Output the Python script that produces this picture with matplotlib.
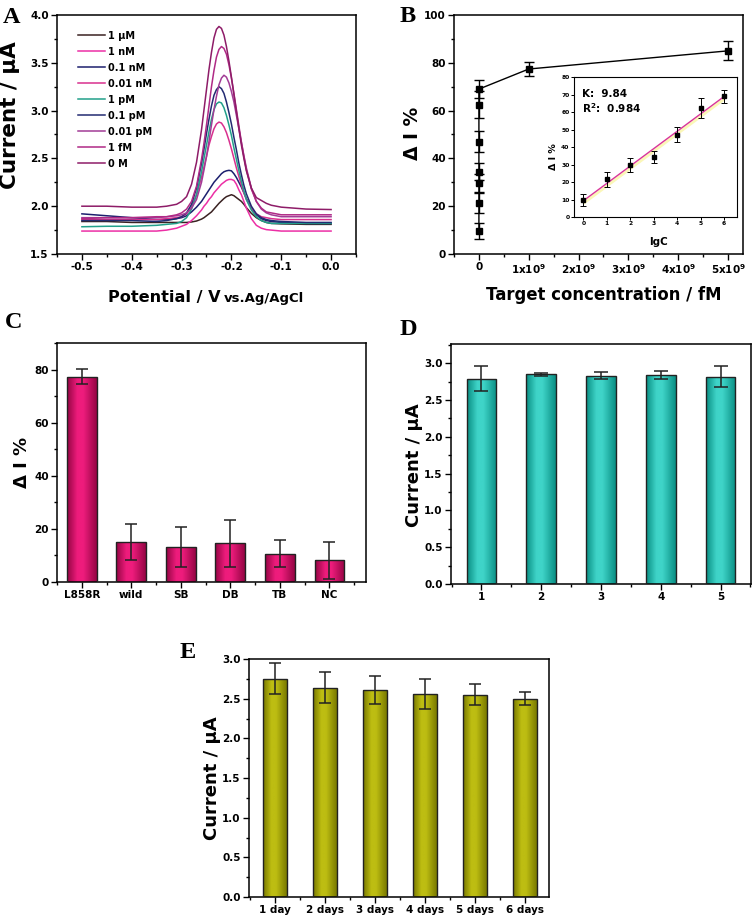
import numpy as np
import matplotlib
matplotlib.use("Agg")
import matplotlib.pyplot as plt
from matplotlib.ticker import MultipleLocator
from matplotlib.colors import LinearSegmentedColormap

plt.rcParams['font.family'] = 'DejaVu Sans'
plt.rcParams['font.weight'] = 'bold'
plt.rcParams['mathtext.default'] = 'bf'
plt.rcParams['axes.unicode_minus'] = False

# ---------------- panel A : DPV curves ----------------
potential = [-0.50, -0.45, -0.40, -0.35, -0.33, -0.31, -0.30, -0.29, -0.28, -0.27,
             -0.26, -0.255, -0.25, -0.245, -0.24, -0.235, -0.23, -0.225, -0.22, -0.215,
             -0.21, -0.205, -0.20, -0.195, -0.19, -0.185, -0.18, -0.175, -0.17, -0.16,
             -0.15, -0.14, -0.13, -0.12, -0.10, -0.05, 0.00]

cur_1uM = [1.84, 1.84, 1.83, 1.83, 1.83, 1.83, 1.83, 1.83, 1.835, 1.845,
           1.865, 1.88, 1.90, 1.92, 1.94, 1.97, 2.00, 2.03, 2.055, 2.08,
           2.10, 2.11, 2.12, 2.11, 2.09, 2.07, 2.05, 2.02, 1.985, 1.925,
           1.88, 1.85, 1.83, 1.82, 1.815, 1.81, 1.81]
cur_1nM = [1.74, 1.74, 1.74, 1.74, 1.75, 1.77, 1.79, 1.81, 1.85, 1.90,
           1.96, 2.00, 2.03, 2.07, 2.10, 2.14, 2.17, 2.20, 2.23, 2.25,
           2.27, 2.28, 2.28, 2.27, 2.23, 2.17, 2.12, 2.05, 1.98, 1.87,
           1.80, 1.77, 1.755, 1.75, 1.74, 1.74, 1.74]
cur_01nM = [1.92, 1.90, 1.88, 1.86, 1.86, 1.87, 1.88, 1.90, 1.94, 1.99,
            2.05, 2.09, 2.13, 2.17, 2.21, 2.25, 2.28, 2.31, 2.34, 2.36,
            2.37, 2.375, 2.37, 2.34, 2.30, 2.25, 2.20, 2.14, 2.08, 1.98,
            1.91, 1.87, 1.85, 1.84, 1.83, 1.82, 1.82]
cur_001nM = [1.86, 1.86, 1.86, 1.86, 1.87, 1.88, 1.89, 1.92, 1.99, 2.12,
             2.30, 2.41, 2.52, 2.64, 2.73, 2.81, 2.86, 2.88, 2.87, 2.83,
             2.77, 2.69, 2.60, 2.50, 2.40, 2.31, 2.22, 2.14, 2.07, 1.98,
             1.92, 1.89, 1.88, 1.87, 1.86, 1.86, 1.86]
cur_1pM = [1.785, 1.79, 1.79, 1.80, 1.81, 1.82, 1.84, 1.88, 1.97, 2.12,
           2.36, 2.50, 2.64, 2.78, 2.91, 3.01, 3.07, 3.09, 3.08, 3.03,
           2.95, 2.85, 2.74, 2.61, 2.49, 2.37, 2.26, 2.16, 2.07, 1.96,
           1.89, 1.85, 1.83, 1.82, 1.82, 1.82, 1.82]
cur_01pM = [1.85, 1.85, 1.85, 1.84, 1.85, 1.87, 1.89, 1.93, 2.02, 2.19,
            2.45, 2.60, 2.76, 2.91, 3.05, 3.16, 3.22, 3.25, 3.23, 3.18,
            3.09, 2.98, 2.86, 2.72, 2.59, 2.45, 2.33, 2.22, 2.13, 2.00,
            1.92, 1.88, 1.86, 1.85, 1.84, 1.83, 1.83]
cur_001pM = [1.88, 1.88, 1.88, 1.88, 1.89, 1.90, 1.91, 1.93, 1.98, 2.07,
             2.25, 2.38, 2.52, 2.68, 2.85, 3.01, 3.15, 3.27, 3.34, 3.37,
             3.35, 3.29, 3.20, 3.09, 2.95, 2.81, 2.67, 2.53, 2.40, 2.19,
             2.05, 1.97, 1.93, 1.91, 1.89, 1.89, 1.89]
cur_1fM = [1.87, 1.88, 1.88, 1.89, 1.89, 1.91, 1.93, 1.97, 2.05, 2.21,
           2.49, 2.66, 2.85, 3.05, 3.25, 3.42, 3.56, 3.64, 3.67, 3.65,
           3.59, 3.48, 3.34, 3.18, 3.01, 2.84, 2.67, 2.52, 2.38, 2.18,
           2.05, 1.98, 1.94, 1.93, 1.91, 1.91, 1.91]
cur_0M = [2.00, 2.00, 1.99, 1.99, 2.00, 2.02, 2.05, 2.10, 2.23, 2.46,
          2.80, 3.01, 3.22, 3.43, 3.61, 3.76, 3.85, 3.88, 3.86, 3.79,
          3.67, 3.52, 3.35, 3.17, 2.99, 2.81, 2.64, 2.50, 2.37, 2.19,
          2.09, 2.06, 2.03, 2.01, 1.99, 1.97, 1.965]

curves = [cur_1uM, cur_1nM, cur_01nM, cur_001nM, cur_1pM, cur_01pM, cur_001pM, cur_1fM, cur_0M]
conc_labels = ["1 μM", "1 nM", "0.1 nM", "0.01 nM", "1 pM", "0.1 pM", "0.01 pM", "1 fM", "0 M"]
curve_colors = ['#3a2222', '#ec2fa5', '#1c1f6e', '#d8308e', '#22a08a', '#232b72', '#a23c96', '#b02a86', '#8e1c68']

# ---------------- panel B : calibration ----------------
conc_fM = [1, 10, 100, 1e3, 1e4, 1e5, 1e6, 1e9, 5e9]
dI_b = [9.5, 21.5, 29.5, 34.5, 47.0, 62.5, 69.0, 77.4, 85.0]
dI_b_err = [3.4, 4.3, 4.0, 3.5, 4.3, 5.7, 3.7, 2.8, 4.0]
lgc = [0, 1, 2, 3, 4, 5, 6]
b_xticks = [0, 1e9, 2e9, 3e9, 4e9, 5e9]
b_xticklabels = ['0', '1x10$^9$', '2x10$^9$', '3x10$^9$', '4x10$^9$', '5x10$^9$']

# ---------------- panel C : selectivity ----------------
groups_c = ['L858R', 'wild', 'SB', 'DB', 'TB', 'NC']
dI_c = [77.3, 15.0, 13.2, 14.5, 10.7, 8.1]
err_c = [2.9, 6.7, 7.4, 8.8, 5.0, 7.1]

# ---------------- panel D : reproducibility ----------------
runs_d = ['1', '2', '3', '4', '5']
cur_d = [2.79, 2.85, 2.83, 2.84, 2.815]
err_d = [0.17, 0.02, 0.05, 0.05, 0.145]

# ---------------- panel E : stability ----------------
days_e = ['1 day', '2 days', '3 days', '4 days', '5 days', '6 days']
cur_e = [2.75, 2.64, 2.61, 2.56, 2.55, 2.50]
err_e = [0.195, 0.195, 0.18, 0.19, 0.135, 0.08]

W, H = 756, 922
fig = plt.figure(figsize=(W / 100, H / 100), dpi=100)


def box(l, t, r, b):
    return [l / W, 1 - b / H, (r - l) / W, (b - t) / H]


def ftext(x, y, s, **kw):
    fig.text(x / W, 1 - y / H, s, **kw)


def style(ax, fs=7.5, lw=1.1, major=4, minor=2.2, pad=2):
    for sp in ax.spines.values():
        sp.set_linewidth(lw)
    ax.tick_params(which='both', direction='out', top=False, right=False,
                   labelsize=fs, width=lw * 0.9, pad=pad)
    ax.tick_params(which='major', length=major)
    ax.tick_params(which='minor', length=minor)


def gradient_bars(ax, labels, vals, errs, width, dark, light, capsize):
    x = np.arange(1, len(vals) + 1)
    cmap = LinearSegmentedColormap.from_list('bar', [(0, dark), (0.35, light), (0.55, light), (1, dark)])
    grad = np.linspace(0, 1, 64).reshape(1, -1)
    bars = ax.bar(x, vals, width=width, facecolor='none', edgecolor='#222222', linewidth=1.0, zorder=3)
    for b in bars:
        x0, y0 = b.get_x(), b.get_y()
        im = ax.imshow(grad, cmap=cmap, aspect='auto', zorder=2,
                       extent=[x0, x0 + b.get_width(), y0, y0 + b.get_height()])
        im.set_clip_path(b)
    ax.errorbar(x, vals, yerr=errs, fmt='none', ecolor='#222222', elinewidth=1.1,
                capsize=capsize, capthick=1.1, zorder=4)
    ax.set_xticks(x, labels)
    ax.xaxis.set_minor_locator(MultipleLocator(0.5))


# ---- A ----
axA = fig.add_axes(box(57, 15, 356, 254))
for y, lab, col in zip(curves, conc_labels, curve_colors):
    axA.plot(potential, y, color=col, lw=1.1, label=lab)
axA.set_xlim(-0.55, 0.05)
axA.set_ylim(1.5, 4.0)
axA.xaxis.set_major_locator(MultipleLocator(0.1))
axA.xaxis.set_minor_locator(MultipleLocator(0.05))
axA.yaxis.set_major_locator(MultipleLocator(0.5))
axA.yaxis.set_minor_locator(MultipleLocator(0.25))
style(axA)
axA.legend(loc='upper left', bbox_to_anchor=(0.07, 0.935), frameon=False, borderaxespad=0,
           borderpad=0, handlelength=2.8, handletextpad=0.3, labelspacing=0.62,
           prop={'size': 7, 'weight': 'bold'})
ftext(10, 115, 'Current / μA', rotation=90, ha='center', va='center', fontsize=15.5)
ftext(221, 302, 'Potential / V', ha='right', va='baseline', fontsize=11.6)
ftext(224, 302, 'vs.Ag/AgCl', ha='left', va='baseline', fontsize=9.5)

# ---- B ----
axB = fig.add_axes(box(454, 15, 743, 254))
axB.errorbar(conc_fM, dI_b, yerr=dI_b_err, fmt='s-', color='black', ms=5, lw=1.0,
             capsize=3.5, elinewidth=1.0, capthick=1.0)
axB.set_xlim(-0.5e9, 5.3e9)
axB.set_ylim(0, 100)
axB.set_xticks(b_xticks, b_xticklabels)
axB.xaxis.set_minor_locator(MultipleLocator(0.5e9))
axB.yaxis.set_major_locator(MultipleLocator(20))
axB.yaxis.set_minor_locator(MultipleLocator(10))
style(axB)
ftext(412, 133, 'Δ I %', rotation=90, ha='center', va='center', fontsize=13.5)
ftext(604, 295, 'Target concentration / fM', ha='center', va='center', fontsize=11.9)

# inset
axI = fig.add_axes(box(574, 77, 737, 217))
slope, icpt = np.polyfit(lgc, dI_b[:7], 1)
fit = slope * np.array(lgc) + icpt
axI.fill_between(lgc, fit - 2.0, fit, color='#fbf7b8', lw=0)
axI.plot(lgc, fit, color='#d9349a', lw=1.0)
axI.errorbar(lgc, dI_b[:7], yerr=dI_b_err[:7], fmt='s', color='black', ms=2.5,
             capsize=2, elinewidth=0.7, capthick=0.7)
axI.set_xlim(-0.4, 6.55)
axI.set_ylim(0, 80)
axI.xaxis.set_major_locator(MultipleLocator(1))
axI.yaxis.set_major_locator(MultipleLocator(10))
style(axI, fs=4.3, lw=0.8, major=2, minor=1, pad=1.2)
axI.text(0.05, 0.855, 'K:  9.84', transform=axI.transAxes, fontsize=7.5, va='baseline')
axI.text(0.05, 0.743, 'R$^2$:  0.984', transform=axI.transAxes, fontsize=7.5, va='baseline')
ftext(553, 157, 'Δ I %', rotation=90, ha='center', va='center', fontsize=6.8)
ftext(659, 242, 'lgC', ha='center', va='center', fontsize=7.5)

# ---- C ----
axC = fig.add_axes(box(57, 343, 366, 582))
gradient_bars(axC, groups_c, dI_c, err_c, 0.6, '#960544', '#ee1c7c', 4.5)
axC.set_xlim(0.5, 6.74)
axC.set_ylim(0, 90)
axC.yaxis.set_major_locator(MultipleLocator(20))
axC.yaxis.set_minor_locator(MultipleLocator(10))
style(axC)
ftext(22, 462, 'Δ I %', rotation=90, ha='center', va='center', fontsize=13)

# ---- D ----
axD = fig.add_axes(box(451, 344, 751, 584))
gradient_bars(axD, runs_d, cur_d, err_d, 0.5, '#0a8f84', '#3fd4c8', 5)
axD.set_xlim(0.49, 5.51)
axD.set_ylim(0, 3.26)
axD.yaxis.set_major_locator(MultipleLocator(0.5))
axD.yaxis.set_minor_locator(MultipleLocator(0.25))
style(axD)
ftext(414, 465, 'Current / μA', rotation=90, ha='center', va='center', fontsize=13)

# ---- E ----
axE = fig.add_axes(box(249, 659, 549, 897))
gradient_bars(axE, days_e, cur_e, err_e, 0.48, '#7a7a00', '#bdbd12', 4.5)
axE.set_xlim(0.48, 6.49)
axE.set_ylim(0, 3.0)
axE.yaxis.set_major_locator(MultipleLocator(0.5))
axE.yaxis.set_minor_locator(MultipleLocator(0.25))
style(axE)
ftext(212, 778, 'Current / μA', rotation=90, ha='center', va='center', fontsize=13)

# panel letters
for lx, ly, letter in [(3, 23, 'A'), (400, 22, 'B'), (5, 328, 'C'), (400, 335, 'D'), (180, 658, 'E')]:
    ftext(lx, ly, letter, ha='left', va='baseline', fontsize=17.5,
          family='Liberation Serif', weight='bold')

fig.savefig('out.png', dpi=100)
